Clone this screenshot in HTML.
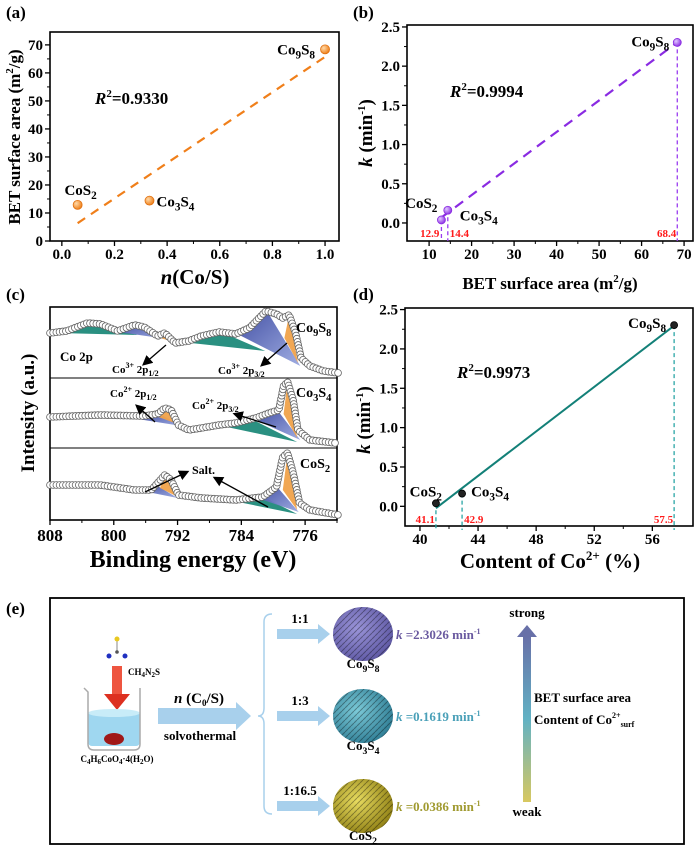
<!DOCTYPE html>
<html><head><meta charset="utf-8"><style>
html,body{margin:0;padding:0;background:#fff}
svg{display:block;font-family:"Liberation Serif",serif;font-weight:bold}
</style></head><body>
<svg id="fig" width="700" height="850" viewBox="0 0 700 850" xmlns="http://www.w3.org/2000/svg">
<defs>
<radialGradient id="gOr" cx="0.35" cy="0.35" r="0.7"><stop offset="0" stop-color="#ffd9a8"/><stop offset="1" stop-color="#ee7b12"/></radialGradient>
<radialGradient id="gPu" cx="0.35" cy="0.35" r="0.7"><stop offset="0" stop-color="#e0c8ff"/><stop offset="1" stop-color="#8a2be2"/></radialGradient>
<linearGradient id="gBlue" x1="0" y1="0" x2="1" y2="1"><stop offset="0" stop-color="#3a48a0"/><stop offset="1" stop-color="#9aa8e0"/></linearGradient>
<linearGradient id="gArr" x1="0" y1="1" x2="0" y2="0"><stop offset="0" stop-color="#d8c860"/><stop offset="0.5" stop-color="#62b2c4"/><stop offset="1" stop-color="#6870a8"/></linearGradient>
<radialGradient id="sp1" cx="0.4" cy="0.4" r="0.7"><stop offset="0" stop-color="#9a94d8"/><stop offset="1" stop-color="#5a54a0"/></radialGradient>
<radialGradient id="sp2" cx="0.4" cy="0.4" r="0.7"><stop offset="0" stop-color="#7ccad8"/><stop offset="1" stop-color="#2a7890"/></radialGradient>
<radialGradient id="sp3" cx="0.4" cy="0.4" r="0.7"><stop offset="0" stop-color="#e8dc60"/><stop offset="1" stop-color="#8a7a10"/></radialGradient>
<pattern id="tex" width="6" height="6" patternUnits="userSpaceOnUse"><path d="M0 3 L3 0 M3 6 L6 3" stroke="#000" stroke-opacity="0.35" stroke-width="1"/></pattern>
<marker id="ah" markerWidth="8" markerHeight="8" refX="6" refY="4" orient="auto"><path d="M0 0 L8 4 L0 8 Z" fill="#000"/></marker>
</defs>
<g id="root"></g>
</svg>
<script>
// ---------- data ----------
const names = ["CoS2","Co3S4","Co9S8"];
const ratioCoS = [0.06, 0.333, 1.0];
const betArea = [12.9, 14.4, 68.4];
const kRate = [0.0386, 0.1619, 2.3026];
const co2Content = [41.1, 42.9, 57.5];
const aXTicks = [0,0.2,0.4,0.6,0.8,1.0];
const aYTicks = [0,10,20,30,40,50,60,70];
const bXTicks = [10,20,30,40,50,60,70];
const kTicks = [0,0.5,1.0,1.5,2.0,2.5];
const dXTicks = [40,44,48,52,56];
const cXTicks = [808,800,792,784,776];
// XPS spectra [binding energy, intensity a.u.]
const specCo9S8E = [808,805.9,803.3,801.7,799.5,797.4,796.2,794.5,793.6,792.3,790.6,789,786.8,784.7,783,780.9,779.6,778.8,778.0,777.2,776.5,775.4,773.7,771.8];
const specCo9S8I = [45,47,55,54,47,53,51,42,45,35,37,42,46,44,50,67,64,60,63,45,20,12,7,5];
const specCo3S4E = [808,801.7,796.2,794.5,793.6,792.8,791.9,790.6,789,786.8,784.7,782.2,780.5,779.3,778.7,778.2,777.5,776.9,775.4,772.2];
const specCo3S4I = [31,33,32,34,40,38,23,18,20,23,25,30,35,38,62,66,48,18,8,5];
const specCoS2E = [808,801.7,797.4,795.3,793.6,792.8,791.9,789,784.7,781.3,779.6,778.8,778.2,777.5,776.7,775.4,771.8];
const specCoS2I = [35,35,30,30,45,40,25,22,20,23,33,63,67,47,17,10,5];

const NS="http://www.w3.org/2000/svg";
const root=document.getElementById('root');
function mk(tag,attrs,parent){const e=document.createElementNS(NS,tag);for(const k in attrs)e.setAttribute(k,attrs[k]);(parent||root).appendChild(e);return e;}
function lin(d0,d1,r0,r1){return v=>r0+(v-d0)*(r1-r0)/(d1-d0);}
function txt(x,y,s,size,anchor,parent,fill){const t=mk('text',{x:x,y:y,'font-size':size,'text-anchor':anchor||'middle',fill:fill||'#000'},parent);t.innerHTML=s;return t;}
function fit(xs,ys){const n=xs.length;const mx=xs.reduce((a,b)=>a+b)/n,my=ys.reduce((a,b)=>a+b)/n;let sxx=0,sxy=0;for(let i=0;i<n;i++){sxx+=(xs[i]-mx)**2;sxy+=(xs[i]-mx)*(ys[i]-my);}const m=sxy/sxx;return [m,my-m*mx];}
const sub=s=>`<tspan font-size="0.75em" dy="4">${s}</tspan>`;
function formula(n){if(n==="CoS2")return `CoS${sub(2)}`;if(n==="Co3S4")return `Co${sub(3)}<tspan dy="-4">S</tspan>${sub(4)}`;return `Co${sub(9)}<tspan dy="-4">S</tspan>${sub(8)}`;}

function axes(g,box,sx,sy,xt,yt,xfmt,yfmt,minorX,minorY){
  mk('rect',{x:box[0],y:box[2],width:box[1]-box[0],height:box[3]-box[2],fill:'none',stroke:'#000','stroke-width':1.6},g);
  xt.forEach(v=>{const x=sx(v);mk('line',{x1:x,x2:x,y1:box[3],y2:box[3]+5,stroke:'#000','stroke-width':1.3},g);txt(x,box[3]+18,xfmt(v),15,'middle',g);});
  yt.forEach(v=>{const y=sy(v);mk('line',{x1:box[0],x2:box[0]-5,y1:y,y2:y,stroke:'#000','stroke-width':1.3},g);txt(box[0]-7,y+5,yfmt(v),15,'end',g);});
  if(minorX)for(let i=0;i<xt.length-1;i++){const x=sx((xt[i]+xt[i+1])/2);mk('line',{x1:x,x2:x,y1:box[3],y2:box[3]+3,stroke:'#000','stroke-width':1},g);}
  if(minorY)for(let i=0;i<yt.length-1;i++){const y=sy((yt[i]+yt[i+1])/2);mk('line',{x1:box[0],x2:box[0]-3,y1:y,y2:y,stroke:'#000','stroke-width':1},g);}
}

// ---------- panel a ----------
(function(){
const g=mk('g',{});


const box=[50,339,32,241];const sx=lin(-0.045,1.053,box[0],box[1]);const sy=lin(0,74.6,box[3],box[2]);
axes(g,box,sx,sy,aXTicks,aYTicks,v=>v.toFixed(1),v=>v,true,true);
const [m,b]=fit(ratioCoS,betArea);
const l=mk('line',{x1:sx(ratioCoS[0]),y1:sy(m*ratioCoS[0]+b),x2:sx(ratioCoS[2]),y2:sy(m*ratioCoS[2]+b),stroke:'#f07f1a','stroke-width':2.2,'stroke-dasharray':'9,7'},g);


ratioCoS.forEach((v,i)=>{const c=mk('circle',{cx:sx(v),cy:sy(betArea[i]),r:4.5,fill:'url(#gOr)',stroke:'#e07010','stroke-width':0.8},g);

});
txt(sx(ratioCoS[0])+3,sy(betArea[0])-10,formula('CoS2'),15,'middle',g);
txt(sx(ratioCoS[1])+7,sy(betArea[1])+6,formula('Co3S4'),15,'start',g);
txt(sx(ratioCoS[2])-10,sy(betArea[2])+5,formula('Co9S8'),15,'end',g);
txt(95,104,'<tspan font-style="italic">R</tspan><tspan font-size="11" dy="-7">2</tspan><tspan dy="7">=0.9330</tspan>',17,'start',g);
const yl=txt(0,0,'BET surface area (m<tspan font-size="11" dy="-7">2</tspan><tspan dy="7">/g)</tspan>',17,'middle',g);yl.setAttribute('transform','translate(20,137) rotate(-90)');


const xl=txt(195,284,'<tspan font-style="italic">n</tspan>(Co/S)',21,'middle',g);


txt(6,18,'(a)',17,'start',g);
})();

// ---------- panel b ----------
(function(){
const g=mk('g',{});


const box=[407,693,25,241];const sx=lin(4.8,72.1,box[0],box[1]);const sy=lin(-0.23,2.525,box[3],box[2]);
axes(g,box,sx,sy,bXTicks,kTicks,v=>v,v=>v.toFixed(1),true,true);
betArea.forEach((v,i)=>{mk('line',{x1:sx(v),x2:sx(v),y1:sy(kRate[i]),y2:box[3],stroke:'#9a3cf0','stroke-width':1.3,'stroke-dasharray':'4,3'},g);});
const [m,b]=fit(betArea,kRate);
const l=mk('line',{x1:sx(betArea[0]),y1:sy(m*betArea[0]+b),x2:sx(betArea[2]),y2:sy(m*betArea[2]+b),stroke:'#8a2be2','stroke-width':2.2,'stroke-dasharray':'10,7'},g);


betArea.forEach((v,i)=>{const c=mk('circle',{cx:sx(v),cy:sy(kRate[i]),r:4,fill:'url(#gPu)',stroke:'#8a2be2','stroke-width':0.8},g);

});
txt(sx(betArea[0])-4,sy(kRate[0])-12,formula('CoS2'),15,'end',g);
txt(sx(betArea[1])+12,sy(kRate[1])+10,formula('Co3S4'),15,'start',g);
txt(sx(betArea[2])-8,sy(kRate[2])+4,formula('Co9S8'),15,'end',g);
txt(sx(betArea[0])-2,237,betArea[0].toFixed(1),11,'end',g,'#ff1a1a');
txt(sx(betArea[1])+2,237,betArea[1].toFixed(1),11,'start',g,'#ff1a1a');
txt(sx(betArea[2])-1,237,betArea[2].toFixed(1),11,'end',g,'#ff1a1a');
txt(450,97,'<tspan font-style="italic">R</tspan><tspan font-size="11" dy="-7">2</tspan><tspan dy="7">=0.9994</tspan>',17,'start',g);
const yl=txt(0,0,'<tspan font-style="italic">k</tspan> (min<tspan font-size="11" dy="-7">-1</tspan><tspan dy="7">)</tspan>',19,'middle',g);yl.setAttribute('transform','translate(372,133) rotate(-90)');


const xl=txt(550,289,'BET surface area (m<tspan font-size="11" dy="-7">2</tspan><tspan dy="7">/g)</tspan>',17,'middle',g);


txt(353,18,'(b)',17,'start',g);
})();

// ---------- panel c ----------
(function(){
const g=mk('g',{});


const box=[50,337,307,520];const sx=lin(808,772,50,337);
const subs=[[307,378],[378,448],[448,520]];
mk('rect',{x:box[0],y:box[2],width:box[1]-box[0],height:box[3]-box[2],fill:'none',stroke:'#000','stroke-width':1.6},g);
mk('line',{x1:50,x2:337,y1:378,y2:378,stroke:'#000','stroke-width':1},g);
mk('line',{x1:50,x2:337,y1:448,y2:448,stroke:'#000','stroke-width':1},g);
cXTicks.forEach(v=>{mk('line',{x1:sx(v),x2:sx(v),y1:520,y2:525,stroke:'#000','stroke-width':1.3},g);txt(sx(v),541,v,17,'middle',g);
mk('line',{x1:sx(v-4),x2:sx(v-4),y1:520,y2:523,stroke:'#000','stroke-width':1},g);});
const comps=[
 [0,'#1f8a7a',[[807,45],[802.5,54],[797,43]]],
 [0,'url(#gBlue)',[[799.5,46],[797.2,54],[793.3,39]]],
 [0,'#f0a24a',[[794.6,41],[793.9,46],[792.9,37]]],
 [0,'#1f8a7a',[[791.5,36],[786.8,47],[781,27]]],
 [0,'url(#gBlue)',[[784.5,44],[780.8,67],[776.6,12]]],
 [0,'#f0a24a',[[778.6,40],[778,63],[776.9,15]]],
 [1,'#1f8a7a',[[787,23],[782.5,28],[777,6]]],
 [1,'url(#gBlue)',[[797,29],[794.2,34],[791.5,22]]],
 [1,'#f0a24a',[[794.4,31],[793.6,40],[792,24]]],
 [1,'url(#gBlue)',[[782.2,28],[779.5,38],[776.6,8]]],
 [1,'#f0a24a',[[778.7,34],[778.2,66],[777,10]]],
 [2,'#1f8a7a',[[785,19],[781,22],[777,6]]],
 [2,'url(#gBlue)',[[797,30],[794.5,34],[792,22]]],
 [2,'#f0a24a',[[794.2,32],[793.6,45],[792.2,24]]],
 [2,'url(#gBlue)',[[782,22],[779.5,33],[776.8,8]]],
 [2,'#f0a24a',[[778.8,30],[778.2,67],[777,10]]]
];
comps.forEach(c=>{const yb=subs[c[0]][1];mk('polygon',{points:c[2].map(p=>sx(p[0])+','+(yb-p[1])).join(' '),fill:c[1],opacity:0.95},g);});
const specs=[[specCo9S8E,specCo9S8I],[specCo3S4E,specCo3S4I],[specCoS2E,specCoS2I]];
specs.forEach((s,k)=>{const yb=subs[k][1];const pts=s[0].map((e,i)=>sx(e)+','+(yb-s[1][i])).join(' ');
 const p1=mk('polyline',{points:pts,fill:'none',stroke:'#999','stroke-width':5,'stroke-linejoin':'round'},g);
 
 
 // hollow circle markers placed along the drawn path
 const L=p1.getTotalLength();
 for(let d=0;d<=L;d+=3.2){const p=p1.getPointAtLength(d);mk('circle',{cx:p.x,cy:p.y,r:3.4,fill:'#fff',stroke:'#666','stroke-width':0.8},g);}
});
txt(296,332,formula('Co9S8'),14,'start',g);
txt(296,397,formula('Co3S4'),14,'start',g);
txt(300,468,formula('CoS2'),14,'start',g);
txt(60,361,'Co 2p',13,'start',g);
txt(112,373,'Co<tspan font-size="8" dy="-5">3+</tspan><tspan dy="5"> 2p</tspan><tspan font-size="8" dy="3">1/2</tspan>',11,'start',g);
txt(218,374,'Co<tspan font-size="8" dy="-5">3+</tspan><tspan dy="5"> 2p</tspan><tspan font-size="8" dy="3">3/2</tspan>',11,'start',g);
txt(110,397,'Co<tspan font-size="8" dy="-5">2+</tspan><tspan dy="5"> 2p</tspan><tspan font-size="8" dy="3">1/2</tspan>',11,'start',g);
txt(192,409,'Co<tspan font-size="8" dy="-5">2+</tspan><tspan dy="5"> 2p</tspan><tspan font-size="8" dy="3">3/2</tspan>',11,'start',g);
txt(192,474,'Salt.',12,'start',g);
[[166,345,144,364],[287,343,262,365],[155,422,137,406],[276,427,235,414],[145,492,187,472],[268,507,215,478]].forEach(a=>{
 mk('line',{x1:a[0],y1:a[1],x2:a[2],y2:a[3],stroke:'#000','stroke-width':1.3,'marker-end':'url(#ah)'},g);});
const yl=txt(0,0,'Intensity (a.u.)',19,'middle',g);yl.setAttribute('transform','translate(34,413) rotate(-90)');


const xl=txt(193,567,'Binding energy (eV)',24,'middle',g);


txt(6,300,'(c)',17,'start',g);
})();

// ---------- panel d ----------
(function(){
const g=mk('g',{});


const box=[405,693,308,526];const sx=lin(38.97,58.8,box[0],box[1]);const sy=lin(-0.25,2.52,box[3],box[2]);
axes(g,box,sx,sy,dXTicks,kTicks,v=>v,v=>v.toFixed(1),true,true);
co2Content.forEach((v,i)=>{mk('line',{x1:sx(v),x2:sx(v),y1:sy(kRate[i]),y2:box[3]+4,stroke:'#2aa5a5','stroke-width':1.3,'stroke-dasharray':'4,3'},g);});
const [m,b]=fit(co2Content,kRate);
const l=mk('line',{x1:sx(co2Content[0]),y1:sy(m*co2Content[0]+b),x2:sx(co2Content[2]),y2:sy(m*co2Content[2]+b),stroke:'#138078','stroke-width':2},g);


co2Content.forEach((v,i)=>{const c=mk('circle',{cx:sx(v),cy:sy(kRate[i]),r:3.5,fill:'#222',stroke:'#000','stroke-width':0.8},g);

});
txt(sx(co2Content[0])+6,sy(kRate[0])-7,formula('CoS2'),15,'end',g);
txt(sx(co2Content[1])+9,sy(kRate[1])+3,formula('Co3S4'),15,'start',g);
txt(sx(co2Content[2])-8,sy(kRate[2])+3,formula('Co9S8'),15,'end',g);
txt(sx(co2Content[0])-1,523,co2Content[0].toFixed(1),11,'end',g,'#ff1a1a');
txt(sx(co2Content[1])+2,523,co2Content[1].toFixed(1),11,'start',g,'#ff1a1a');
txt(sx(co2Content[2])-1,523,co2Content[2].toFixed(1),11,'end',g,'#ff1a1a');
txt(457,378,'<tspan font-style="italic">R</tspan><tspan font-size="11" dy="-7">2</tspan><tspan dy="7">=0.9973</tspan>',17,'start',g);
const yl=txt(0,0,'<tspan font-style="italic">k</tspan> (min<tspan font-size="11" dy="-7">-1</tspan><tspan dy="7">)</tspan>',19,'middle',g);yl.setAttribute('transform','translate(370,420) rotate(-90)');


const xl=txt(550,568,'Content of Co<tspan font-size="13" dy="-8">2+</tspan><tspan dy="8"> (%)</tspan>',21,'middle',g);


txt(353,300,'(d)',17,'start',g);
})();

// ---------- panel e ----------
(function(){
const g=mk('g',{});


txt(6,614,'(e)',17,'start',g);
mk('rect',{x:50,y:598,width:634,height:246,fill:'none',stroke:'#000','stroke-width':1.8},g);
mk('line',{x1:117,y1:640,x2:117,y2:652,stroke:'#888','stroke-width':1},g);
mk('circle',{cx:117,cy:639,r:2.5,fill:'#e8c820'},g);
mk('circle',{cx:109,cy:656,r:2.5,fill:'#2030c0'},g);
mk('circle',{cx:125,cy:656,r:2.5,fill:'#2030c0'},g);
mk('circle',{cx:117,cy:652,r:1.8,fill:'#555'},g);
txt(128,675,'CH<tspan font-size="7" dy="2">4</tspan><tspan dy="-2">N</tspan><tspan font-size="7" dy="2">2</tspan><tspan dy="-2">S</tspan>',9,'start',g);
mk('rect',{x:112,y:666,width:10,height:30,fill:'#ee5540'},g);
mk('polygon',{points:'104,694 130,694 117,710',fill:'#dd3020'},g);
mk('rect',{x:88,y:712,width:52,height:34,rx:4,fill:'#9fd7f0'},g);
mk('ellipse',{cx:114,cy:713,rx:26,ry:4,fill:'#c8ecf8'},g);
mk('path',{d:'M84 688 L88 692 L88 744 Q88 750 94 750 L134 750 Q140 750 140 744 L140 688',fill:'none',stroke:'#aaa','stroke-width':1.5},g);
mk('ellipse',{cx:114,cy:739,rx:10,ry:6,fill:'#a01818'},g);
txt(117,762,'C<tspan font-size="7" dy="2">4</tspan><tspan dy="-2">H</tspan><tspan font-size="7" dy="2">6</tspan><tspan dy="-2">CoO</tspan><tspan font-size="7" dy="2">4</tspan><tspan dy="-2">·4(H</tspan><tspan font-size="7" dy="2">2</tspan><tspan dy="-2">O)</tspan>',9,'middle',g);
mk('polygon',{points:'158,708 236,708 236,702 251,716 236,730 236,724 158,724',fill:'#a8d0ec'},g);
txt(199,703,'<tspan font-style="italic">n</tspan> (C<tspan font-size="9" dy="3">0</tspan><tspan dy="-3">/S)</tspan>',15,'middle',g);
txt(200,740,'solvothermal',13,'middle',g);
mk('path',{d:'M272 614 Q264 614 264 622 L264 708 Q264 716 258 716 Q264 716 264 724 L264 806 Q264 814 272 814',fill:'none',stroke:'#a8d0ec','stroke-width':1.5},g);
const rows=[[634,'1:1','sp1','Co9S8','#6a5aa0','2.3026'],[716,'1:3','sp2','Co3S4','#4aa0b8','0.1619'],[806,'1:16.5','sp3','CoS2','#a09a30','0.0386']];
rows.forEach(r=>{const y=r[0];
 mk('polygon',{points:`277,${y-5} 318,${y-5} 318,${y-10} 330,${y} 318,${y+10} 318,${y+5} 277,${y+5}`,fill:'#a8d0ec'},g);
 txt(300,y-11,r[1],13,'middle',g);
 const s=mk('ellipse',{cx:363,cy:y,rx:30,ry:27,fill:'url(#'+r[2]+')'},g);
 
 
 mk('ellipse',{cx:363,cy:y,rx:30,ry:27,fill:'url(#tex)'},g);
 txt(363,y+34,formula(r[3]),13,'middle',g);
 txt(396,y+5,'<tspan font-style="italic">k</tspan> ='+r[5]+' min<tspan font-size="8" dy="-5">-1</tspan>',13,'start',g,r[4]);
});
mk('rect',{x:523,y:636,width:8,height:166,fill:'url(#gArr)'},g);
mk('polygon',{points:'517,637 537,637 527,625',fill:'#6870a8'},g);
txt(527,617,'strong',13,'middle',g);
txt(527,816,'weak',13,'middle',g);
txt(534,702,'BET surface area',13,'start',g);
txt(534,724,'Content of Co<tspan font-size="8" dy="-6">2+</tspan><tspan font-size="8" dy="9">surf</tspan>',13,'start',g);
})();
</script>
</body></html>
